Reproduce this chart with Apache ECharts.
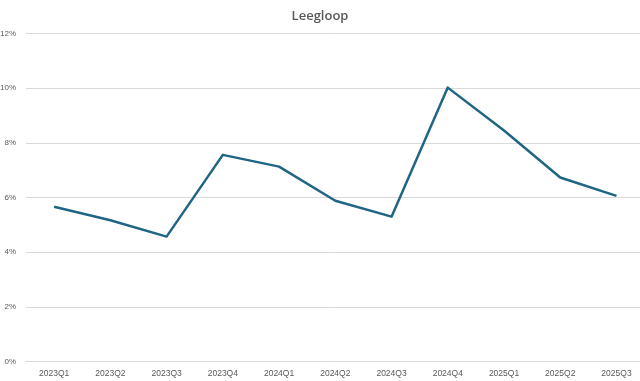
<!DOCTYPE html>
<html>
<head>
<meta charset="utf-8">
<script src="https://cdn.jsdelivr.net/npm/echarts@6/dist/echarts.min.js"></script>
<style>html,body{margin:0;padding:0;background:#fff}#c{width:640px;height:381px}</style>
</head>
<body>
<div id="c"></div>
<script>
const categories = ['2023Q1','2023Q2','2023Q3','2023Q4','2024Q1','2024Q2','2024Q3','2024Q4','2025Q1','2025Q2','2025Q3'];
const leegloop = [5.66, 5.17, 4.57, 7.56, 7.13, 5.88, 5.30, 10.02, 8.45, 6.73, 6.06];
const yTicks = [0, 2, 4, 6, 8, 10, 12];

const chart = echarts.init(document.getElementById('c'), null, {renderer: 'canvas'});
chart.setOption({
  animation: false,
  backgroundColor: '#ffffff',
  title: {
    text: 'Leegloop',
    left: 'center',
    top: 5,
    textStyle: {fontFamily: 'Open Sans', fontSize: 13, fontWeight: 600, color: '#595959'}
  },
  grid: {left: 26, top: 33.5, width: 618.6, bottom: 19.5, containLabel: false, outerBoundsMode: 'none'},
  xAxis: {
    type: 'category',
    data: categories,
    boundaryGap: true,
    axisLine: {show: true, lineStyle: {color: '#d9d9d9', width: 1}},
    axisTick: {show: false},
    axisLabel: {color: '#595959', fontSize: 8.5, fontFamily: 'Liberation Sans', margin: 8}
  },
  yAxis: {
    type: 'value',
    min: yTicks[0],
    max: yTicks[yTicks.length - 1],
    interval: 2,
    axisLine: {show: false},
    axisTick: {show: false},
    splitLine: {lineStyle: {color: '#d9d9d9', width: 1}},
    axisLabel: {color: '#595959', fontSize: 8, fontFamily: 'Liberation Sans', margin: 10, formatter: v => v + '%'}
  },
  series: [{
    type: 'line',
    data: leegloop,
    symbol: 'none',
    lineStyle: {color: '#1F6584', width: 2.5, join: 'round'},
    itemStyle: {color: '#1F6584'}
  }]
});
</script>
</body>
</html>
